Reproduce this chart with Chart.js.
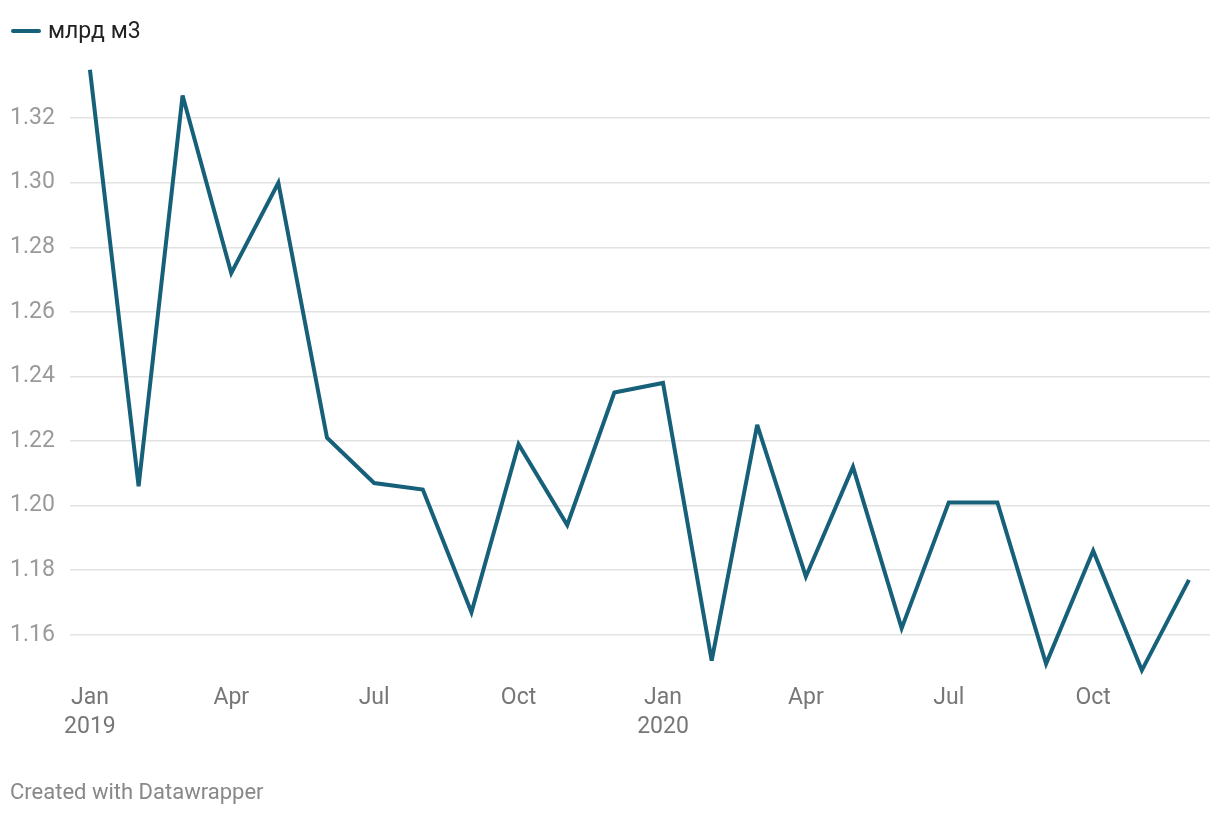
<!DOCTYPE html>
<html>
<head>
<meta charset="utf-8">
<script src="https://cdn.jsdelivr.net/npm/chart.js@4"></script>
<style>
  html, body { margin: 0; padding: 0; background: #fff; }
  body { width: 1220px; height: 816px; position: relative; overflow: hidden; font-family: Roboto, sans-serif; }
  .legend { position: absolute; left: 11px; top: 17px; display: flex; align-items: center; font-size: 23px; color: #222; }
  .legend .swatch { width: 30px; height: 4px; border-radius: 2px; background: #17607a; margin-right: 7px; }
  .wrap { position: absolute; left: 0; top: 0; width: 1220px; height: 816px; }
  .footer { position: absolute; left: 10px; top: 779px; font-size: 22px; color: #888; }
</style>
</head>
<body>
<div class="wrap"><canvas id="chart"></canvas></div>
<div class="legend"><span class="swatch"></span><span>млрд м3</span></div>
<div class="footer">Created with Datawrapper</div>

<script>
/* ── Data ───────────────────────────────────────────── */
const monthNames = ['Jan','Feb','Mar','Apr','May','Jun','Jul','Aug','Sep','Oct','Nov','Dec'];
const dates  = ['2019-01','2019-02','2019-03','2019-04','2019-05','2019-06',
                '2019-07','2019-08','2019-09','2019-10','2019-11','2019-12',
                '2020-01','2020-02','2020-03','2020-04','2020-05','2020-06',
                '2020-07','2020-08','2020-09','2020-10','2020-11','2020-12'];
const volume = [1.335, 1.206, 1.327, 1.272, 1.300, 1.221, 1.207, 1.205, 1.167, 1.219, 1.194, 1.235,
                1.238, 1.152, 1.225, 1.178, 1.212, 1.162, 1.201, 1.201, 1.151, 1.186, 1.149, 1.177];
const xTickDates = ['2019-01','2019-04','2019-07','2019-10','2020-01','2020-04','2020-07','2020-10'];
const yTicks     = [1.16, 1.18, 1.20, 1.22, 1.24, 1.26, 1.28, 1.30, 1.32];

const lineColor = '#17607a';

// days since first month, so months keep their real calendar spacing
const t0 = Date.UTC(2019, 0, 1);
function dayOf(s) {
  const [y, m] = s.split('-').map(Number);
  return (Date.UTC(y, m - 1, 1) - t0) / 86400000;
}
function labelOf(day) {
  const d = new Date(t0 + day * 86400000);
  const mon = monthNames[d.getUTCMonth()];
  return d.getUTCMonth() === 0 ? [mon, String(d.getUTCFullYear())] : mon;
}

// svg-like miter limit so the sharp dips don't spike
const miterPlugin = {
  id: 'miter',
  beforeDatasetsDraw: chart => { chart.ctx.save(); chart.ctx.miterLimit = 4; },
  afterDatasetsDraw: chart => { chart.ctx.restore(); },
};

new Chart(document.getElementById('chart'), {
  type: 'line',
  data: {
    datasets: [{
      label: 'млрд м3',
      data: volume.map((v, i) => ({ x: dayOf(dates[i]), y: v })),
      borderColor: lineColor,
      borderWidth: 4,
      pointRadius: 0,
      tension: 0,
      fill: false,
    }]
  },
  options: {
    responsive: true,
    maintainAspectRatio: false,
    animation: false,
    layout: { padding: { left: 10, right: 10, top: 60, bottom: 56 } },
    plugins: { legend: { display: false }, tooltip: { enabled: false } },
    scales: {
      x: {
        type: 'linear',
        min: -12.7,
        max: 713.4,
        grid: { display: false, drawTicks: false },
        border: { display: false },
        afterBuildTicks: s => { s.ticks = xTickDates.map(d => ({ value: dayOf(d) })); },
        afterFit: s => { s.height = 80; },
        ticks: {
          padding: 4,
          maxRotation: 0,
          autoSkip: false,
          color: '#777',
          font: { family: 'Roboto', size: 23, lineHeight: 1.26 },
          callback: v => labelOf(v),
        }
      },
      y: {
        min: 1.146,
        max: 1.338,
        grid: { color: '#e2e2e2', lineWidth: 1.5, drawTicks: false },
        border: { display: false },
        afterBuildTicks: s => { s.ticks = yTicks.map(v => ({ value: v })); },
        afterFit: s => { s.width = 60; },
        ticks: {
          crossAlign: 'far',
          color: '#9a9a9a',
          font: { family: 'Roboto', size: 23 },
          callback: v => v.toFixed(2),
        }
      }
    }
  },
  plugins: [miterPlugin]
});
</script>
</body>
</html>
